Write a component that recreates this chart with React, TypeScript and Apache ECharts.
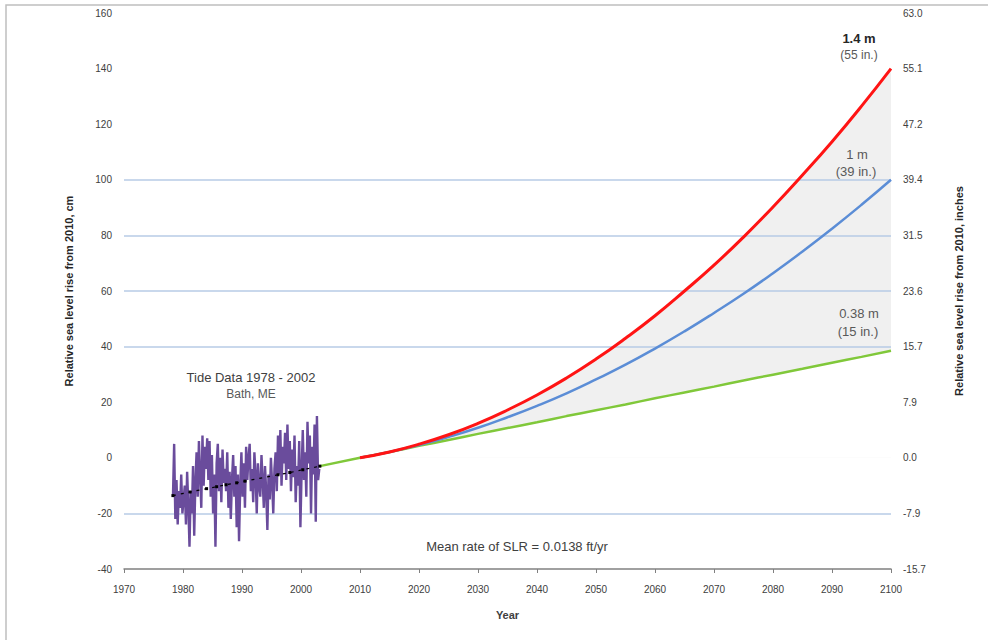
import React, { useEffect, useRef } from "react";
import * as echarts from "echarts";

// ---- data ----
const projYears = [2010, 2015, 2020, 2025, 2030, 2035, 2040, 2045, 2050, 2055, 2060, 2065, 2070, 2075, 2080, 2085, 2090, 2095, 2100];
const red14m = [0, 2.1, 4.9, 8.3, 12.4, 17.2, 22.6, 28.7, 35.5, 43.0, 51.1, 60.0, 69.3, 79.4, 90.2, 101.7, 113.7, 126.5, 140];
const blue1m = [0, 2.1, 4.6, 7.5, 10.8, 14.6, 18.7, 23.2, 28.2, 33.5, 39.3, 45.5, 52.1, 59.0, 66.4, 74.2, 82.4, 91.0, 100];
const green038m = [0, 2.1, 4.3, 6.4, 8.6, 10.7, 12.8, 15.0, 17.1, 19.2, 21.4, 23.5, 25.6, 27.8, 29.9, 32.0, 34.2, 36.3, 38.5];
const greenStart = [2003.2, -3.0];

const tideStart = 1978.3;
const tideStep = 0.2;
const tideValues = [
  -14, 5, -22, -8, -24,
  -12, -18, -6, -20, -15,
  -10, -24, -5, -17, -32,
  -12, -20, -3, -28, -9,
  2, -14, 6, -6, -18,
  8, -10, 4, -4, 7,
  -8, 6, -14, 1, -20,
  -6, -32, -2, 5, -12,
  0, -16, 3, -9, -4,
  -12, 2, -18, -5, -22,
  -8, 1, -14, -3, -25,
  -6, -30, -10, 2, -14,
  -2, -18, 4, -8, 0,
  5, -12, -4, -16, 2,
  -6, -20, -2, -10, -14,
  1, -8, -18, -3, -12,
  -26, -6, -15, 0, -9,
  -20, -4, 2, -12, 8,
  -6, 10, -10, 4, -2,
  9, -8, 12, -4, 6,
  -12, 3, -7, 8, -16,
  -3, -10, 6, -25, -5,
  10, -8, 2, -14, 13,
  -2, 8, -20, 4, -6,
  12, -23, 15, -8, -4,
];

const trendYears = [1978.3, 1981.2, 1984.0, 1985.7, 1987.3, 1989.1, 1990.5, 1996.1, 1998.1, 2000.3, 2003.2];
const trendValues = [-13.6, -12.3, -11.1, -10.4, -9.7, -9.0, -8.4, -6.1, -5.3, -4.3, -3.0];

const gridLineValues = [100, 80, 60, 40, -20];

const FONT = "Liberation Sans";

export default function App() {
  const ref = useRef<HTMLDivElement>(null);
  useEffect(() => {
    document.body.style.margin = "0";
    const chart = echarts.init(ref.current!, null, { renderer: "svg" });
    const redData = projYears.map((y, i) => [y, red14m[i]]);
    const blueData = projYears.map((y, i) => [y, blue1m[i]]);
    const greenProj = projYears.map((y, i) => [y, green038m[i]]);
    const greenData = [greenStart, ...greenProj];
    const tideData = tideValues.map((v, i) => [tideStart + i * tideStep, v]);

    const txt = (x: number, y: number, text: string, size: number, color: string, weight = "normal") => ({
      type: "text",
      x,
      y,
      z: 100,
      silent: true,
      style: {
        text,
        fontSize: size,
        fontFamily: FONT,
        fill: color,
        fontWeight: weight,
        textAlign: "center",
        textVerticalAlign: "middle",
      },
    });

    chart.setOption({
      animation: false,
      backgroundColor: "#ffffff",
      grid: { left: 124, right: 97, top: 13, bottom: 71, containLabel: false },
      xAxis: {
        type: "value",
        min: 1970,
        max: 2100,
        interval: 10,
        name: "Year",
        nameLocation: "middle",
        nameGap: 40,
        nameTextStyle: { fontFamily: FONT, fontSize: 11, color: "#404040", fontWeight: "bold" },
        axisLine: { show: true, onZero: false, lineStyle: { color: "#808080", width: 1.5 } },
        axisTick: { show: true, length: 4, lineStyle: { color: "#808080" } },
        axisLabel: { fontFamily: FONT, fontSize: 10, color: "#404040", margin: 15, formatter: (v: number) => String(v) },
        splitLine: { show: false },
      },
      yAxis: [
        {
          type: "value",
          min: -40,
          max: 160,
          interval: 20,
          name: "Relative sea level rise from 2010, cm",
          nameLocation: "middle",
          nameRotate: 90,
          nameGap: 50,
          nameTextStyle: { fontFamily: FONT, fontSize: 11, color: "#262626", fontWeight: "bold" },
          axisLine: { show: false },
          axisTick: { show: false },
          axisLabel: { fontFamily: FONT, fontSize: 10, color: "#404040", margin: 12 },
          splitLine: { show: false },
        },
        {
          type: "value",
          min: -40,
          max: 160,
          interval: 20,
          position: "right",
          name: "Relative sea level rise from 2010, inches",
          nameLocation: "middle",
          nameRotate: 90,
          nameGap: 62,
          nameTextStyle: { fontFamily: FONT, fontSize: 11, color: "#262626", fontWeight: "bold" },
          axisLine: { show: false },
          axisTick: { show: false },
          axisLabel: {
            fontFamily: FONT,
            fontSize: 10,
            color: "#404040",
            margin: 12,
            formatter: (v: number) => (v / 2.54).toFixed(1),
          },
          splitLine: { show: false },
        },
      ],
      series: [
        {
          name: "band-top",
          type: "line",
          data: redData,
          smooth: true,
          symbol: "none",
          silent: true,
          lineStyle: { width: 0, opacity: 0 },
          areaStyle: { color: "#f0f0f0", opacity: 1, origin: 0 },
          z: 1,
        },
        {
          name: "band-mask",
          type: "line",
          data: greenProj,
          smooth: true,
          symbol: "none",
          silent: true,
          lineStyle: { width: 0, opacity: 0 },
          areaStyle: { color: "#ffffff", opacity: 1, origin: 0 },
          z: 2,
          markLine: {
            silent: true,
            symbol: "none",
            label: { show: false },
            lineStyle: { color: "#b7cbe6", width: 1.5, type: "solid" },
            data: gridLineValues.map((v) => ({ yAxis: v })),
            z: 3,
          },
        },
        {
          name: "0.38 m",
          type: "line",
          data: greenData,
          smooth: true,
          symbol: "none",
          lineStyle: { color: "#80c83a", width: 2.5 },
          z: 5,
        },
        {
          name: "1 m",
          type: "line",
          data: blueData,
          smooth: true,
          symbol: "none",
          lineStyle: { color: "#5b8dd6", width: 2.5 },
          z: 6,
        },
        {
          name: "1.4 m",
          type: "line",
          data: redData,
          smooth: true,
          symbol: "none",
          lineStyle: { color: "#ff1414", width: 3 },
          z: 7,
        },
        {
          name: "Tide data",
          type: "line",
          data: tideData,
          symbol: "none",
          lineStyle: { color: "#6a4c9c", width: 2.4 },
          z: 8,
        },
        {
          name: "Trend",
          type: "line",
          data: trendYears.map((y, i) => [y, trendValues[i]]),
          symbol: "rect",
          symbolSize: 3,
          itemStyle: { color: "#000000" },
          lineStyle: { color: "#000000", width: 1.2, type: [3, 5] },
          z: 9,
        },
      ],
      graphic: [
        {
          type: "rect",
          silent: true,
          z: 100,
          shape: { x: 6, y: 5, width: 990, height: 650 },
          style: { fill: "none", stroke: "#bfbfbf", lineWidth: 1.5 },
        },
        txt(859, 38, "1.4 m", 13, "#262626", "bold"),
        txt(859, 55, "(55 in.)", 12, "#595959"),
        txt(857, 154, "1 m", 13, "#595959"),
        txt(856, 171, "(39 in.)", 13, "#595959"),
        txt(859, 313, "0.38 m", 13, "#595959"),
        txt(858, 331, "(15 in.)", 13, "#595959"),
        txt(251, 377, "Tide Data 1978 - 2002", 13, "#404040"),
        txt(251, 394, "Bath, ME", 12, "#595959"),
        txt(517, 546, "Mean rate of SLR = 0.0138 ft/yr", 13, "#404040"),
      ],
    });
    return () => chart.dispose();
  }, []);
  return <div ref={ref} style={{ width: 988, height: 640 }} />;
}
